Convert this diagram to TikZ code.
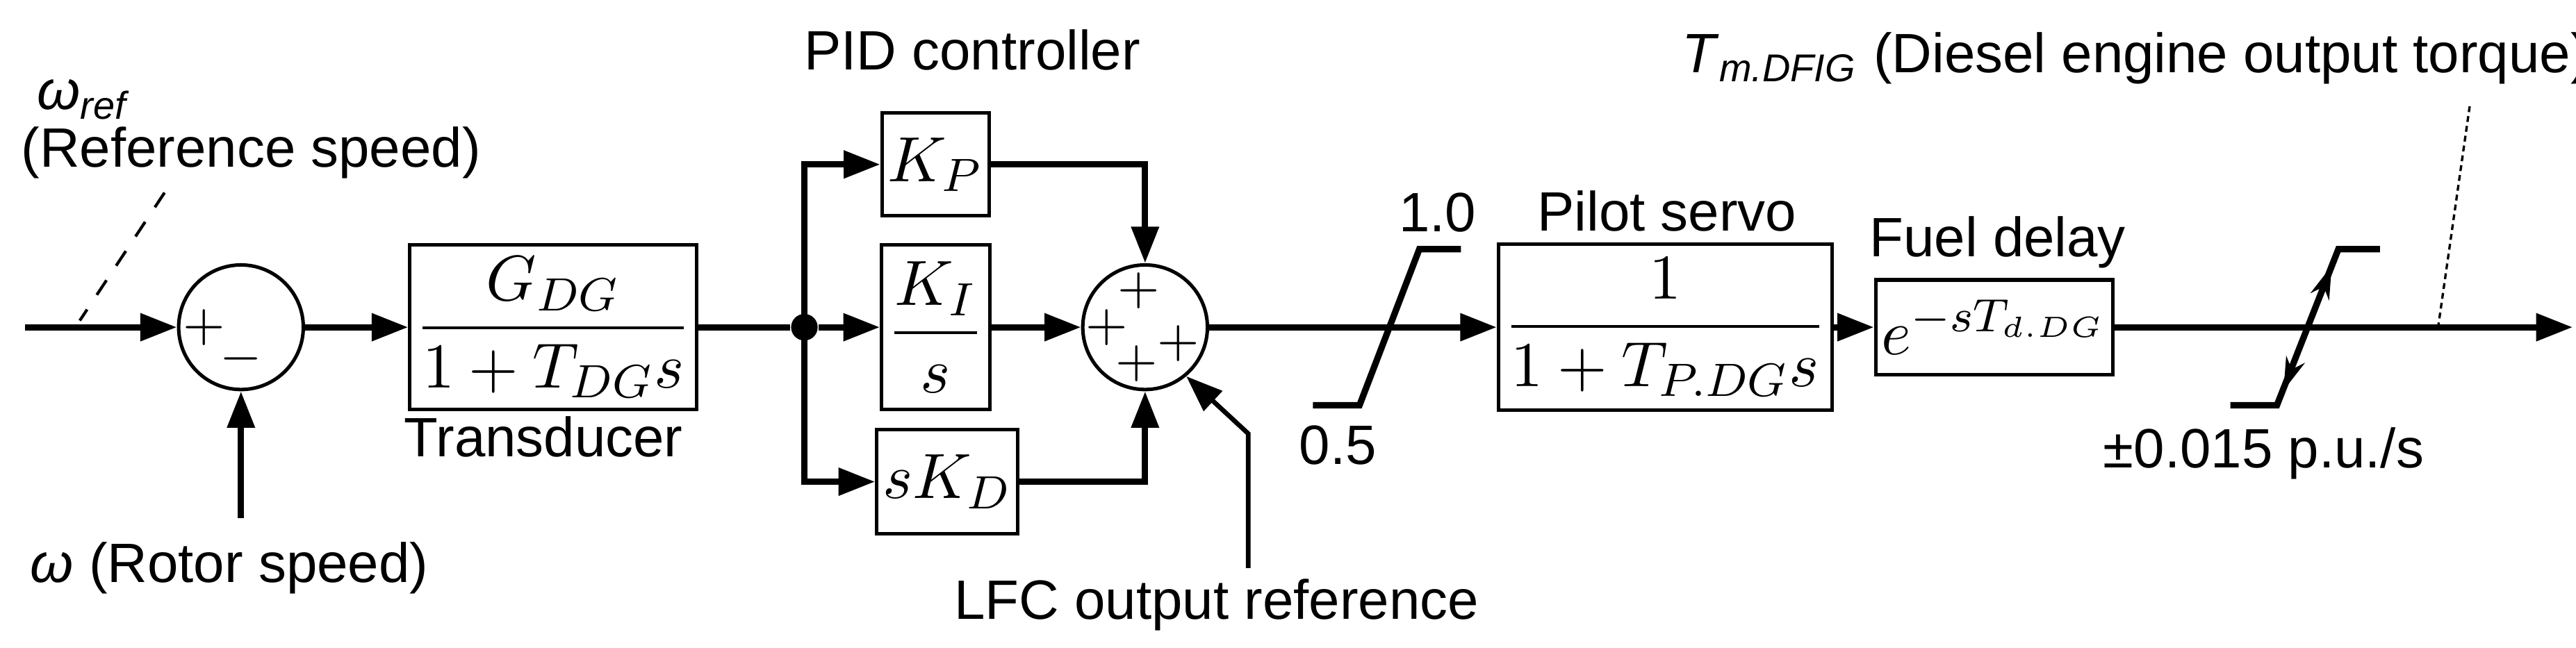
\documentclass[tikz,border=0pt]{standalone}
\usepackage{amsmath}
\usepackage{fontspec}
\setmainfont{Liberation Sans}
\usetikzlibrary{arrows.meta,positioning}
\tikzset{
	blk/.style={draw,line width=0.6pt,inner sep=1pt,font=\fontsize{11}{13}\selectfont},
	sumc/.style={draw,circle,line width=0.6pt,minimum size=7.5mm,inner sep=0pt},
	sig/.style={line width=1.1pt,-{Triangle[length=2.2mm,width=1.6mm]}},
	lbl/.style={font=\fontsize{9.5}{11}\selectfont}
}
\begin{document}
\begin{tikzpicture}[x=0.1mm,y=-0.1mm]
	\useasboundingbox (0,0) rectangle (1550,390);
	% blocks
	\coordinate (in) at (15,197);
	\node[sumc] (s1) at (145,197) {};
	\node[blk,minimum width=12mm,minimum height=9.9mm] (tr) at (333,197) {$\dfrac{G_{DG}}{1+T_{DG}s}$};
	\node[circle,fill,inner sep=0pt,minimum size=1.6mm] (j) at (484,197) {};
	\node[blk,minimum width=6.4mm,minimum height=6.2mm] (kp) at (563,99) {$K_P$};
	\node[blk,minimum width=6.4mm,minimum height=9.9mm] (ki) at (563,197) {$\dfrac{K_I}{s}$};
	\node[blk,minimum width=8.1mm,minimum height=6.3mm] (kd) at (570,290) {$sK_D$};
	\node[sumc] (s2) at (689,197) {};
	\node[blk,minimum width=14.1mm,minimum height=10mm] (ps) at (1002,197) {$\dfrac{1}{1+T_{P.DG}s}$};
	\node[blk,minimum width=11.7mm,minimum height=5.7mm] (fd) at (1200,197) {$e^{-sT_{d.DG}}$};
	\coordinate (out) at (1548,197);
	% signs
	\node[font=\small] at (123,197) {$+$};
	\node[font=\small] at (145,216) {$-$};
	\node[font=\small] at (685,175) {$+$};
	\node[font=\small] at (666,197) {$+$};
	\node[font=\small] at (684,219) {$+$};
	\node[font=\small] at (709,207) {$+$};
	% signals
	\draw[sig] (in) -- (s1);
	\coordinate (w) at (145,312);
	\draw[sig] (w) -- (s1);
	\draw[sig] (s1) -- (tr);
	\draw[line width=1.1pt] (tr) -- (j);
	\draw[sig] (j) -- (ki);
	\draw[sig] (j.center) |- (kp);
	\draw[sig] (j.center) |- (kd);
	\draw[sig] (kp) -| (s2);
	\draw[sig] (kd) -| (s2);
	\draw[sig] (ki) -- (s2);
	\draw[sig] (s2) -- (ps);
	\draw[sig] (ps) -- (fd);
	\draw[sig] (fd) -- (out);
	\coordinate (lfc) at (751,342);
	\draw[line width=0.8pt,-{Triangle[length=2.2mm,width=1.6mm]}] (lfc) -- (751,261) -- (s2.-50);
	% limiters
	\draw[line width=1.1pt] (790,244) -- (818,244) -- (854,150) -- (879,150);
	\draw[line width=1.1pt] (1342,244) -- (1370,244) -- (1407,150) -- (1432,150);
	\draw[line width=0.6pt,{Stealth[length=2mm,width=1.2mm]}-{Stealth[length=2mm,width=1.2mm]}] (1374,235) -- (1403,160);
	% pointers
	\draw[dashed,line width=0.5pt] (99,116) -- (48,193);
	\draw[dash pattern=on 1pt off 0.7pt,line width=0.4pt] (1486,64) -- (1467,197);
	% labels
	\node[lbl] at (50,60) {\itshape ω\textsubscript{ref}};
	\node[lbl] (refl) at (151,92) {(Reference speed)};
	\node[lbl] (rotl) at (138,342) {\textit{ω} (Rotor speed)};
	\node[lbl] (trl) at (327,263) {Transducer};
	\node[lbl] (pidl) at (585,30) {PID controller};
	\node[lbl] (lfcl) at (732,364) {LFC output reference};
	\node[lbl] at (865,128) {1.0};
	\node[lbl] at (805,268) {0.5};
	\node[lbl] (psl) at (1003,127) {Pilot servo};
	\node[lbl] (fdl) at (1202,146) {Fuel delay};
	\node[lbl] (rll) at (1362,273) {±0.015 p.u./s};
	\node[lbl] (tml) at (1285,35) {\textit{T}\textsubscript{\textit{m.DFIG}} (Diesel engine output torque)};
\end{tikzpicture}
\end{document}
